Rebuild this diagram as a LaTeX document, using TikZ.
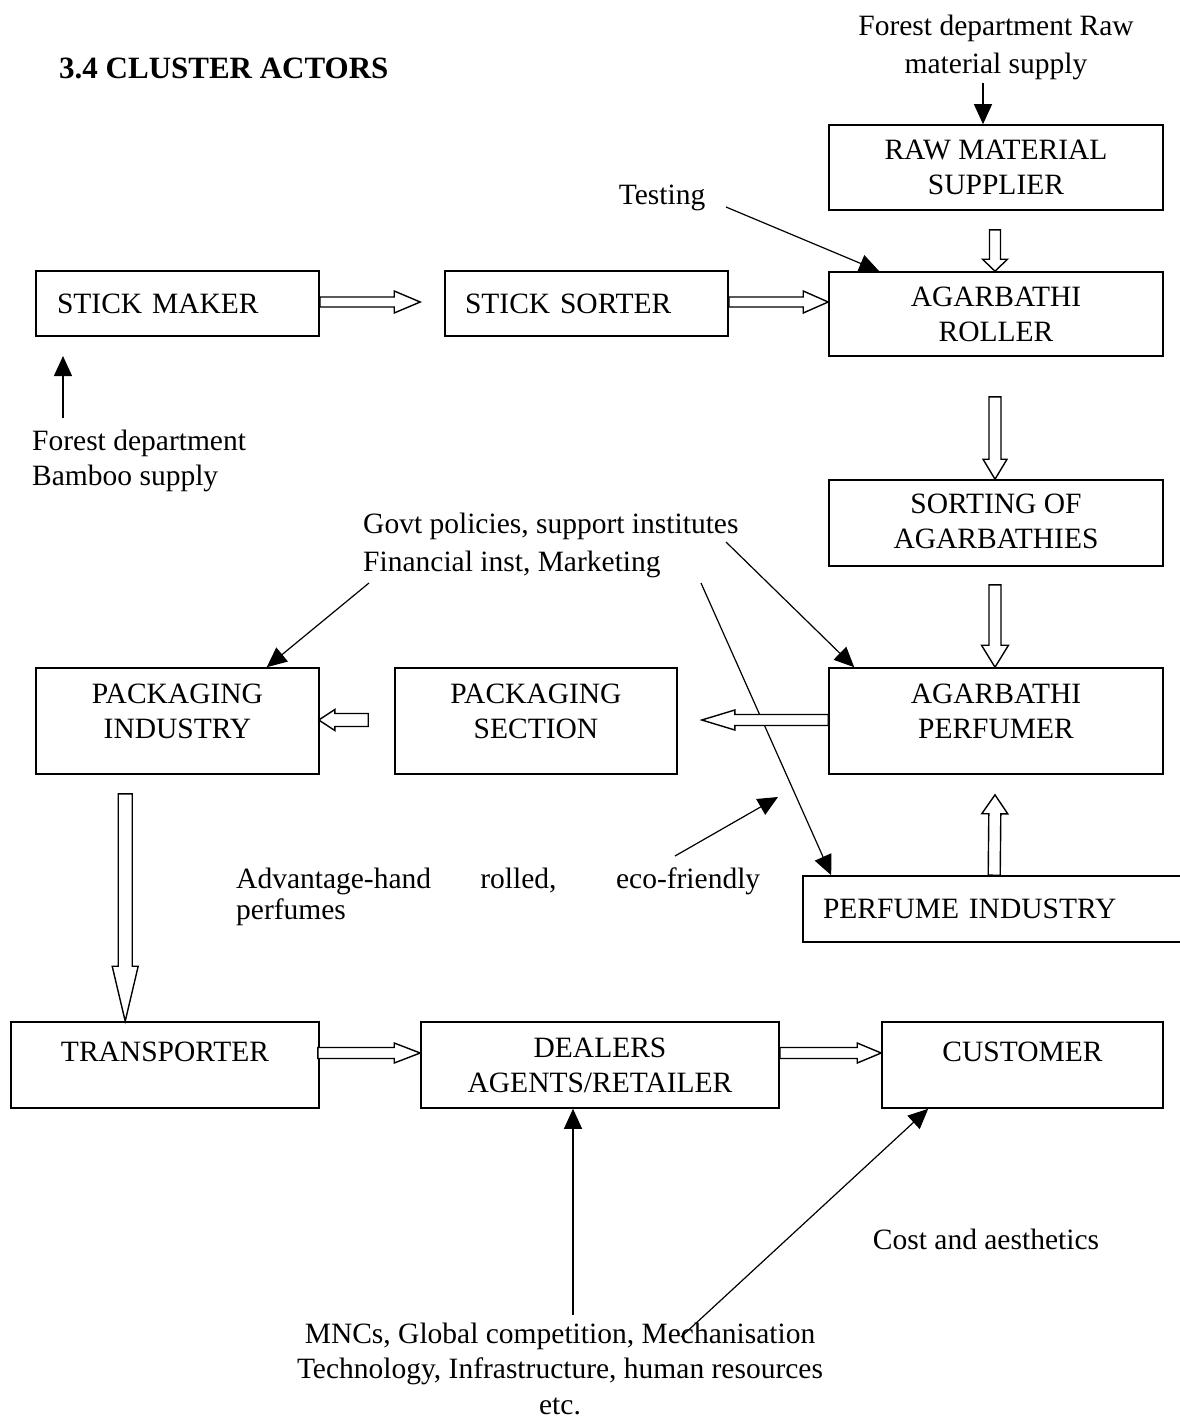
\documentclass[tikz,border=0pt]{standalone}
\usepackage{fontspec}
\setmainfont{Liberation Serif}
\usetikzlibrary{arrows.meta,calc}

% hollow block arrow: from, to, shaft half width, head half width, head length
\newcommand{\blockarrow}[5]{%
  \coordinate (ba-s) at (#1);
  \coordinate (ba-e) at (#2);
  \coordinate (ba-h) at ($(ba-e)!#5!(ba-s)$);
  \draw[hollow] ($(ba-s)!#3!90:(ba-e)$) -- ($(ba-h)!#3!-90:(ba-s)$) -- ($(ba-h)!#4!-90:(ba-s)$) -- (ba-e)
    -- ($(ba-h)!#4!90:(ba-s)$) -- ($(ba-h)!#3!90:(ba-s)$) -- ($(ba-s)!#3!-90:(ba-e)$) -- cycle;
}

\begin{document}
\begin{tikzpicture}[x=1pt, y=-1pt,
  every node/.append style={font=\fontsize{29.5}{35}\selectfont},
  actor/.style={draw, line width=1.6pt, inner sep=0pt, align=center},
  note/.style={inner sep=0pt, align=left},
  thinarrow/.style={line width=1.2pt, -{Triangle[length=20pt,width=18pt]}},
  hollow/.style={draw, line width=1.4pt, fill=white, line join=miter}]
\useasboundingbox (0,0) rectangle (1180,1422);

% title and notes
\node[note, anchor=west, font=\fontsize{31}{35}\selectfont\bfseries] (title) at (59,68) {3.4 CLUSTER ACTORS};
\node[note, align=center] (rawsup) at (996,47) {Forest department Raw\\[3pt]material supply};
\node[note] (testing) at (662,198) {Testing};
\node[note, anchor=west] (bamboo) at (32,461) {Forest department\\Bamboo supply};
\node[note, anchor=west] (govt) at (363,545) {Govt policies, support institutes\\[3pt]Financial inst, Marketing};
\node[note, anchor=west] (adv) at (236,897) {\makebox[524pt][s]{Advantage-hand rolled, eco-friendly}\\[-4pt]perfumes};
\node[note] (cost) at (986,1239) {Cost and aesthetics};
\node[note, align=center] (mnc) at (560,1369) {MNCs, Global competition, Mechanisation\\Technology, Infrastructure, human resources\\[1pt]etc.};

% actors
\node[actor, minimum width=334pt, minimum height=85pt] (rms) at (996,167.5) {RAW MATERIAL\\SUPPLIER};
\node[actor, minimum width=283pt, minimum height=65pt, text width=241pt, align=left] (smaker) at (177.5,303.5) {STICK MAKER};
\node[actor, minimum width=283pt, minimum height=65pt, text width=243pt, align=left] (sorter) at (586.5,303.5) {STICK SORTER};
\node[actor, minimum width=334pt, minimum height=84pt] (roller) at (996,314) {AGARBATHI\\ROLLER};
\node[actor, minimum width=334pt, minimum height=86pt, text depth=3pt] (sorting) at (996,523) {SORTING OF\\AGARBATHIES};
\node[actor, minimum width=283pt, minimum height=106pt, text depth=19pt] (pkind) at (177.5,721) {PACKAGING\\INDUSTRY};
\node[actor, minimum width=282pt, minimum height=106pt, text depth=19pt] (pksec) at (536,721) {PACKAGING\\SECTION};
\node[actor, minimum width=334pt, minimum height=106pt, text depth=19pt] (perfumer) at (996,721) {AGARBATHI\\PERFUMER};
\node[actor, minimum width=400pt, minimum height=66pt, text width=360pt, align=left] (perfind) at (1003,909) {PERFUME INDUSTRY};
\node[actor, minimum width=308pt, minimum height=86pt, text depth=26pt] (transp) at (165,1065) {TRANSPORTER};
\node[actor, minimum width=358pt, minimum height=86pt] (dealers) at (600,1065) {DEALERS\\AGENTS/RETAILER};
\node[actor, minimum width=281pt, minimum height=86pt, text depth=26pt] (customer) at (1022.5,1065) {CUSTOMER};

% free ends of the thin arrows
\coordinate (rawsrc) at (983,83);
\coordinate (testsrc) at (726,207);
\coordinate (bamsrc) at (63,418);
\coordinate (bamtip) at (63,356);
\coordinate (govtsrc1) at (369,583);
\coordinate (govtsrc2) at (726,542);
\coordinate (govtsrc3) at (701,583);
\coordinate (advsrc) at (675,856);
\coordinate (advtip) at (778,797);
\coordinate (mncsrc1) at (573,1315);
\coordinate (mncsrc2) at (681,1337);

% thin arrows
\draw[thinarrow] (rawsrc) -- (rawsrc |- rms.north);
\draw[thinarrow] (testsrc) -- ($(roller.north west)+(51,0)$);
\draw[thinarrow] (bamsrc) -- (bamtip);
\draw[thinarrow] (govtsrc1) -- ($(pkind.north west)+(231.5,0)$);
\draw[thinarrow] (govtsrc2) -- ($(perfumer.north west)+(26,0)$);
\draw[thinarrow] (govtsrc3) -- ($(perfind.north west)+(29,0)$);
\draw[thinarrow] (advsrc) -- (advtip);
\draw[thinarrow] (mncsrc1) -- (mncsrc1 |- dealers.south);
\draw[thinarrow] (mncsrc2) -- ($(customer.south west)+(47,0)$);

% block arrows
\blockarrow{$(rms.south)+(-1,19)$}{$(roller.north)+(-1,0)$}{5.5pt}{12.5pt}{12pt}
\blockarrow{$(smaker.east)+(0,-1.5)$}{$(sorter.west)+(-24,-1.5)$}{5pt}{11pt}{26pt}
\blockarrow{$(sorter.east)+(0,-1.5)$}{$(roller.west |- sorter.east)+(0,-1.5)$}{5pt}{11pt}{25pt}
\blockarrow{$(roller.south)+(-1,40)$}{$(sorting.north)+(-1,0)$}{6pt}{12pt}{20pt}
\blockarrow{$(sorting.south)+(-1,18)$}{$(perfumer.north)+(-1,0)$}{6pt}{13.5pt}{22pt}
\blockarrow{$(perfumer.west)+(0,-1)$}{$(pksec.east)+(24,-1)$}{5.5pt}{10pt}{33pt}
\blockarrow{$(pksec.west)+(-26,-1)$}{$(pkind.east)+(-1,-1)$}{6.5pt}{10.5pt}{16pt}
\blockarrow{$(pkind.south west)+(90,19)$}{$(transp.north west)+(115,0)$}{7pt}{13pt}{55pt}
\blockarrow{$(perfind.north west)+(192,0)$}{$(perfumer.south)+(-1,20)$}{6pt}{13pt}{19pt}
\blockarrow{$(transp.east)+(-2,-12)$}{$(dealers.west)+(0,-12)$}{5.5pt}{10pt}{26pt}
\blockarrow{$(dealers.east)+(0,-12)$}{$(customer.west)+(0,-12)$}{5.5pt}{10pt}{24pt}
\end{tikzpicture}
\end{document}
